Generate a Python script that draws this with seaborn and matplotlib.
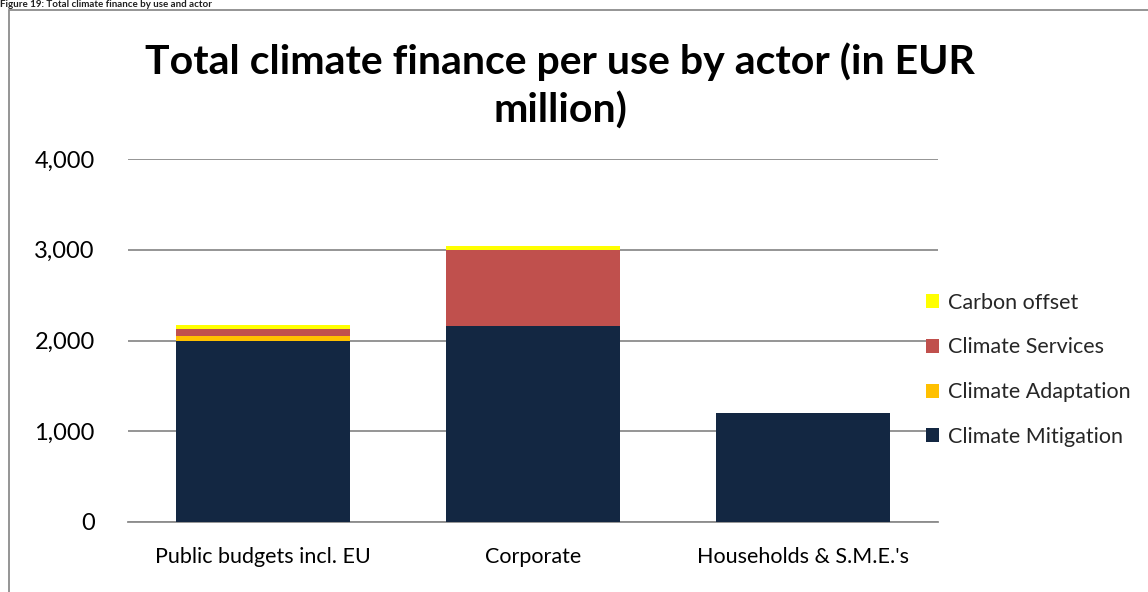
import numpy as np
import pandas as pd
import matplotlib
matplotlib.use("Agg")
import matplotlib.pyplot as plt
from matplotlib.patches import Rectangle, Patch
import seaborn as sns

# Climate finance by actor and use (EUR million)
actors = ["Public budgets incl. EU", "Corporate", "Households & S.M.E.'s"]
mitigation = [2000, 2160, 1200]
adaptation = [55, 0, 0]
services = [77, 840, 0]
carbon_offset = [36, 36, 0]

series_names = ["Climate Mitigation", "Climate Adaptation", "Climate Services", "Carbon offset"]
series_values = [mitigation, adaptation, services, carbon_offset]
series_colors = ["#132742", "#FFC000", "#C0504D", "#FFFF00"]
y_ticks = [0, 1000, 2000, 3000, 4000]

sns.set_theme(style="white")
plt.rcParams["font.family"] = ["Lato", "DejaVu Sans"]

fig = plt.figure(figsize=(11.48, 5.92), dpi=100)
ax = fig.add_axes([128 / 1148, 1 - 522 / 592, 810 / 1148, 363 / 592])

# stacked bars: draw cumulative totals from the top segment down
cum = np.cumsum(np.array(series_values), axis=0)
for i in range(len(series_names) - 1, -1, -1):
    df = pd.DataFrame({"actor": actors, "value": cum[i]})
    sns.barplot(data=df, x="actor", y="value", color=series_colors[i],
                width=0.645, saturation=1, linewidth=0, edgecolor="none",
                ax=ax, zorder=3)

ax.set_ylim(0, 4000)
ax.set_yticks(y_ticks)
ax.set_yticklabels([f"{v:,}" for v in y_ticks], fontsize=17, color="#000000")
ax.tick_params(axis="y", length=0, pad=24)
ax.tick_params(axis="x", length=0, pad=18, labelsize=15.5)
for lbl in ax.get_xticklabels():
    lbl.set_color("#000000")
ax.set_xlabel("")
ax.set_ylabel("")
ax.yaxis.grid(True, color="#8C8C8C", linewidth=1.3, zorder=0)
ax.set_axisbelow(True)
for side in ["top", "right", "left"]:
    ax.spines[side].set_visible(False)
ax.spines["bottom"].set_color("#8C8C8C")
ax.spines["bottom"].set_linewidth(1.3)

# legend (reverse order, top segment first)
handles = [Patch(facecolor=c, edgecolor="none") for c in series_colors[::-1]]
fig.legend(handles, series_names[::-1], loc="upper left",
           bbox_to_anchor=(917 / 1148, 1 - 284 / 592), frameon=False,
           fontsize=15.5, handlelength=0.62, handleheight=0.62,
           handletextpad=0.4, labelspacing=1.15, borderaxespad=0)

fig.text(0.488, 1 - 86 / 592, "Total climate finance per use by actor (in EUR\nmillion)",
         ha="center", va="center", fontsize=29.5, fontweight="bold",
         linespacing=1.35, color="#000000")

# chart frame
fig.patches.append(Rectangle((9 / 1148, -0.05), 1.2, 1 - 10 / 592 + 0.05,
                             transform=fig.transFigure, fill=False,
                             edgecolor="#8C8C8C", linewidth=1.3))

fig.text(0.0, 1.0, "Figure 19: Total climate finance by use and actor",
         ha="left", va="top", fontsize=7, fontweight="bold", color="#1F1F1F")

fig.savefig("out.png", dpi=100)
